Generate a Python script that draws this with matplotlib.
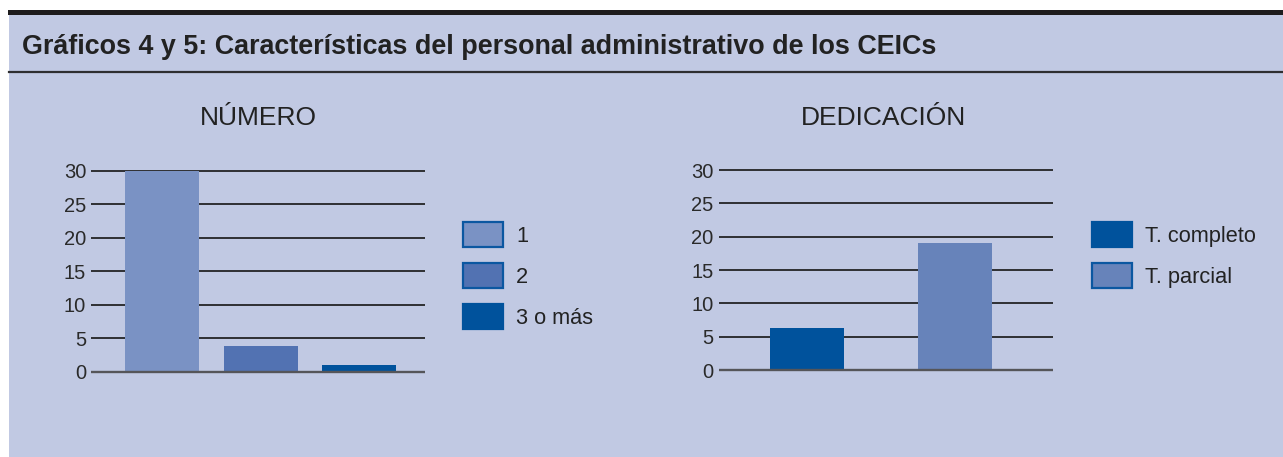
import matplotlib
matplotlib.use("Agg")
import matplotlib.pyplot as plt
from matplotlib.patches import Rectangle, Patch
from matplotlib.lines import Line2D

plt.rcParams['font.family'] = ['Liberation Sans', 'DejaVu Sans']

# data
title = "Gráficos 4 y 5: Características del personal administrativo de los CEICs"
num_title = "NÚMERO"
num_labels = ["1", "2", "3 o más"]
num_values = [30, 3.9, 1.0]
num_colors = ["#7a92c4", "#5272b2", "#00529c"]

ded_title = "DEDICACIÓN"
ded_labels = ["T. completo", "T. parcial"]
ded_values = [6.3, 19.0]
ded_colors = ["#00529c", "#6783ba"]

yticks = [0, 5, 10, 15, 20, 25, 30]

BG = "#c1c9e3"
EDGE = "#0b57a1"
W, H = 1283, 457

fig = plt.figure(figsize=(W / 100, H / 100), dpi=100)
fig.patch.set_facecolor("white")


def fx(px):
    return px / W


def fy(py):
    return 1 - py / H


# panel background + header rules
fig.add_artist(Rectangle((fx(9), 0), 1 - fx(9), fy(15), transform=fig.transFigure,
                         facecolor=BG, edgecolor="none", zorder=0))
fig.add_artist(Rectangle((fx(8), fy(15)), 1 - fx(8), fy(9.5) - fy(15), transform=fig.transFigure,
                         facecolor="#1e1c1d", edgecolor="none", zorder=1))
fig.add_artist(Line2D([fx(9), 1], [fy(72), fy(72)], transform=fig.transFigure,
                      color="#2e2e30", lw=1.6, zorder=1))
fig.text(fx(22), fy(46.5), title, fontsize=19.4, fontweight="bold", color="#222222",
         va="center", ha="left")


def bar_panel(x0, x1, y0px, y30px, centers_px, bar_w_px, values, colors, sub, sub_x):
    ppu = (y0px - y30px) / 30.0
    pad = 0.6
    top = y30px - pad * ppu
    bot = y0px + pad * ppu
    ax = fig.add_axes([fx(x0), fy(bot), fx(x1) - fx(x0), (bot - top) / H])
    ax.set_facecolor("none")
    step = centers_px[1] - centers_px[0]
    left_units = (centers_px[0] - x0) / step
    right_units = (x1 - centers_px[0]) / step
    xs = list(range(len(values)))
    ax.bar(xs, values, width=bar_w_px / step, color=colors, zorder=3)
    ax.set_xlim(-left_units, right_units)
    ax.set_ylim(-pad, 30 + pad)
    for t in yticks:
        ax.axhline(t, color="#555559" if t == 0 else "#232325",
                   lw=1.7 if t == 0 else 1.3, zorder=2 if t else 4)
    ax.set_yticks(yticks)
    ax.set_xticks([])
    ax.tick_params(axis="y", length=0, pad=3.5, labelsize=14.5, labelcolor="#2a2a2a")
    for s in ax.spines.values():
        s.set_visible(False)
    fig.text(fx(sub_x), fy(118), sub, fontsize=19, color="#222222", ha="center", va="center")
    return ax


bar_panel(91, 425, 371.7, 171.0, [162, 260.5], 74, num_values, num_colors, num_title, 258)
bar_panel(718.5, 1052.5, 370.0, 170.0, [807, 955], 74, ded_values, ded_colors, ded_title, 883.5)


def legend_at(labels, colors, x, y):
    handles = []
    for lab, c in zip(labels, colors):
        ec = c if c == "#00529c" else EDGE
        handles.append(Patch(facecolor=c, edgecolor=ec, linewidth=1.6, label=lab))
    fs = 15.7
    fpx = fs * 100 / 72
    leg = fig.legend(handles=handles, loc="upper left", bbox_to_anchor=(fx(x), fy(y)),
                     bbox_transform=fig.transFigure, frameon=False, fontsize=fs,
                     handlelength=40 / fpx, handleheight=1.45 * 15 / fs,
                     labelspacing=16.2 / fpx, handletextpad=0.62,
                     borderpad=0, borderaxespad=0)
    for t in leg.get_texts():
        t.set_color("#222222")
    return leg


legend_at(num_labels, num_colors, 462.7, 222)
legend_at(ded_labels, ded_colors, 1091.7, 222)

fig.savefig("out.png", dpi=100, facecolor=fig.get_facecolor())
